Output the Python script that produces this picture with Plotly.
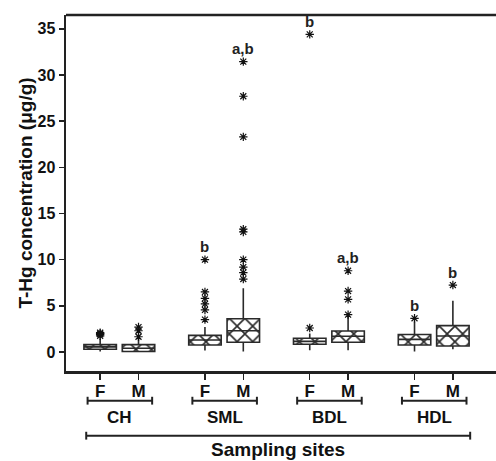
import plotly.graph_objects as go

# ---- data ----
sites = ["CH", "SML", "BDL", "HDL"]
sexes = ["F", "M"]
q1 = [0.30, 0.05, 0.75, 1.05, 0.83, 1.05, 0.75, 0.65]
median = [0.55, 0.40, 1.30, 2.30, 1.15, 1.70, 1.37, 1.73]
q3 = [0.80, 0.80, 1.80, 3.60, 1.48, 2.27, 1.90, 2.85]
low_whisker = [0.05, 0.00, 0.15, 0.05, 0.20, 0.20, 0.05, 0.30]
high_whisker = [1.40, 1.50, 2.70, 6.90, 2.00, 3.90, 3.30, 5.55]
outliers = [
    [1.75, 1.9, 2.0, 2.1],
    [1.65, 2.3, 2.7],
    [3.5, 4.55, 5.2, 5.8, 6.5, 10.0],
    [7.9, 8.6, 9.2, 10.0, 13.0, 13.3, 23.3, 27.7, 31.45],
    [2.6, 34.4],
    [4.05, 5.7, 6.6, 8.8],
    [3.65],
    [7.25],
]
letters = ["", "", "b", "a,b", "b", "a,b", "b", "b"]
y_ticks = [0, 5, 10, 15, 20, 25, 30, 35]
y_title = "T-Hg concentration (μg/g)"
x_title = "Sampling sites"

# ---- layout helpers ----
offset = 0.183
positions = []
tick_text = []
for g, s in enumerate(sites):
    for k, sx in enumerate(sexes):
        positions.append(g + (-offset if k == 0 else offset))
        tick_text.append(sx)

FONT = "Liberation Sans, Arial, sans-serif"
box_w = 0.31

fig = go.Figure()

# box bodies with crosshatch pattern
fig.add_trace(go.Bar(
    x=positions, y=[b - a for a, b in zip(q1, q3)], base=q1, width=box_w,
    marker=dict(color="#b9b9b9", line=dict(width=0),
                pattern=dict(shape="x", fgcolor="#2a2a2a", size=11, solidity=0.28)),
    showlegend=False, hoverinfo="skip"))

# outlines, medians, whiskers
fig.add_trace(go.Box(
    x=positions, q1=q1, median=median, q3=q3,
    lowerfence=low_whisker, upperfence=high_whisker,
    width=box_w, whiskerwidth=0, boxpoints=False,
    fillcolor="rgba(0,0,0,0)", line=dict(color="#2a2a2a", width=1.6),
    showlegend=False))

# outliers
ox, oy = [], []
for p, vals in zip(positions, outliers):
    for v in vals:
        ox.append(p)
        oy.append(v)
fig.add_trace(go.Scatter(
    x=ox, y=oy, mode="markers",
    marker=dict(symbol="asterisk-open", size=7, color="#111",
                line=dict(width=1.2, color="#111")),
    showlegend=False))

# significance letters
for p, vals, lab in zip(positions, outliers, letters):
    if lab:
        fig.add_annotation(x=p, y=max(vals), text=f"<b>{lab}</b>", showarrow=False,
                           yshift=13, font=dict(family=FONT, size=15, color="#222"))

# top frame line
fig.add_shape(type="line", xref="paper", yref="paper", x0=0, x1=1, y0=1, y1=1,
              line=dict(color="#222", width=2.5))

# brackets under each site, and overall
cap = 0.011
yb = -0.0834
for g, s in enumerate(sites):
    x0 = positions[2 * g] - 0.12
    x1 = positions[2 * g + 1] + 0.13
    fig.add_shape(type="line", xref="x", yref="paper", x0=x0, x1=x1, y0=yb, y1=yb,
                  line=dict(color="#222", width=2))
    for xx in (x0, x1):
        fig.add_shape(type="line", xref="x", yref="paper", x0=xx, x1=xx,
                      y0=yb - cap, y1=yb + cap, line=dict(color="#222", width=2))
    fig.add_annotation(x=(x0 + x1) / 2, xref="x", y=yb - 0.046, yref="paper",
                       text=f"<b>{s}</b>", showarrow=False, yanchor="middle",
                       font=dict(family=FONT, size=17, color="#111"))

ybig = -0.1817
X0 = positions[0] - 0.133
X1 = positions[-1] + 0.165
fig.add_shape(type="line", xref="x", yref="paper", x0=X0, x1=X1, y0=ybig, y1=ybig,
              line=dict(color="#222", width=2))
for xx in (X0, X1):
    fig.add_shape(type="line", xref="x", yref="paper", x0=xx, x1=xx,
                  y0=ybig - cap, y1=ybig + cap, line=dict(color="#222", width=2))
fig.add_annotation(x=(X0 + X1) / 2, xref="x", y=ybig - 0.04, yref="paper",
                   text=f"<b>{x_title}</b>", showarrow=False, yanchor="middle",
                   font=dict(family=FONT, size=19, color="#111"))

fig.update_layout(
    template="none",
    width=530, height=461,
    margin=dict(l=66, r=0, t=15, b=90, autoexpand=False),
    plot_bgcolor="white", paper_bgcolor="white",
    bargap=0, barmode="overlay", showlegend=False, hovermode=False,
    font=dict(family=FONT, color="#111"),
    xaxis=dict(range=[-0.509, 3.919], tickvals=positions, ticktext=[f"<b>{t}</b>" for t in tick_text],
               ticks="outside", ticklen=6, tickwidth=1.5, tickcolor="#222",
               showline=True, linewidth=2.5, linecolor="#222", mirror=False,
               showgrid=False, zeroline=False, automargin=False, showspikes=False,
               ticklabelstandoff=-3,
               tickfont=dict(size=17, family=FONT)),
    yaxis=dict(range=[-2.06, 36.5], tickvals=y_ticks, ticktext=[f"<b>{t}</b>" for t in y_ticks],
               ticks="outside", ticklen=5, tickwidth=1.5, tickcolor="#222",
               showline=True, linewidth=2.5, linecolor="#222", mirror=False,
               showgrid=False, zeroline=False, automargin=False, showspikes=False,
               tickfont=dict(size=16, family=FONT),
               title=dict(text=f"<b>{y_title}</b>", font=dict(size=19, family=FONT), standoff=0)),
)

fig.write_html("out.html", config={"staticPlot": True, "displayModeBar": False},
               post_script="document.documentElement.style.overflow='hidden';document.body.style.margin='0';document.body.style.overflow='hidden';")
